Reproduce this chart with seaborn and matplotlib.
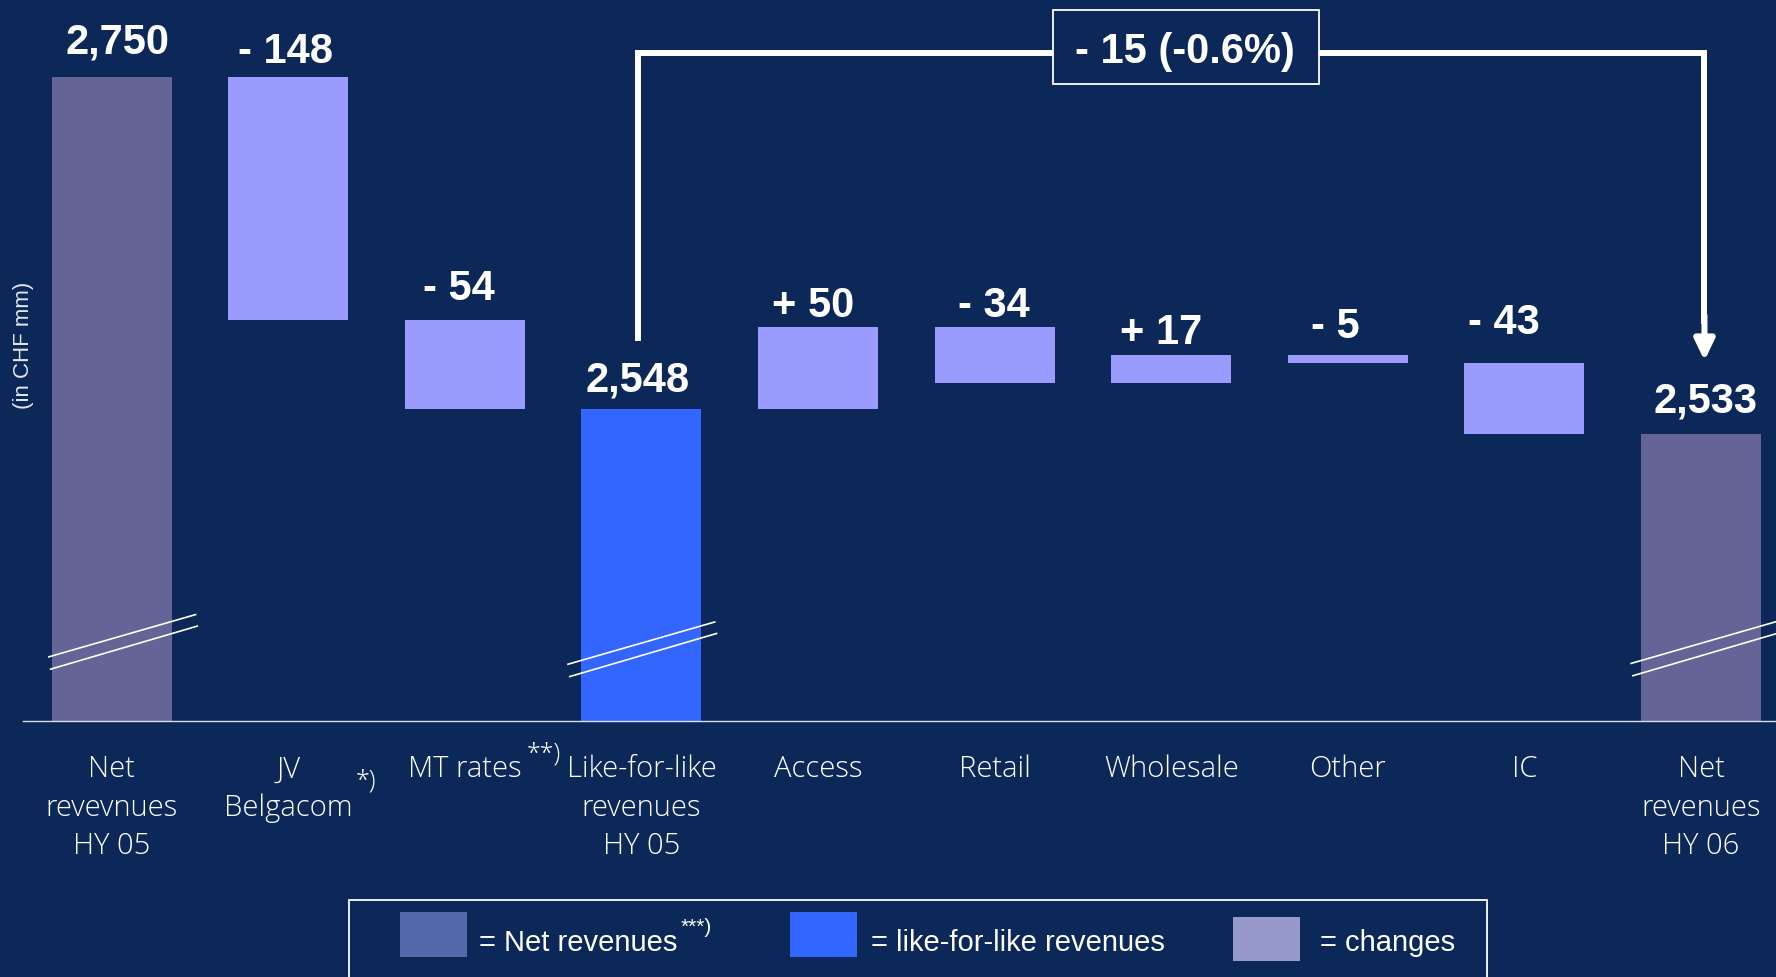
import matplotlib
matplotlib.use("Agg")
import matplotlib.pyplot as plt
from matplotlib.patches import Rectangle
import pandas as pd
import seaborn as sns

# ---- data -------------------------------------------------------------
categories = ["Net\nrevevnues\nHY 05", "JV\nBelgacom", "MT rates",
              "Like-for-like\nrevenues\nHY 05", "Access", "Retail",
              "Wholesale", "Other", "IC", "Net\nrevenues\nHY 06"]
values = [2750, -148, -54, 2548, 50, -34, 17, -5, -43, 2533]
kinds = ["total", "change", "change", "lfl", "change", "change",
         "change", "change", "change", "total"]
value_labels = ["2,750", "- 148", "- 54", "2,548", "+ 50", "- 34",
                "+ 17", "- 5", "- 43", "2,533"]
category_notes = ["", "*)", "**)", "", "", "", "", "", "", ""]
net_change_label = "- 15 (-0.6%)"
legend_labels = ["= Net revenues", "= like-for-like revenues", "= changes"]
legend_note = "***)"
axis_label = "(in CHF mm)"

# ---- waterfall geometry ----------------------------------------------
bottoms, heights = [], []
level = 0
for v, k in zip(values, kinds):
    if k == "change":
        bottoms.append(level + min(v, 0))
        heights.append(abs(v))
        level += v
    else:
        bottoms.append(0)
        heights.append(v)
        level = v
tops = [b + h for b, h in zip(bottoms, heights)]

df = pd.DataFrame({"category": categories, "height": heights, "bottom": bottoms})

# ---- style -------------------------------------------------------------
BG = "#0C2859"
bar_colors = {"total": "#646596", "lfl": "#3366FF", "change": "#9B9BFE"}
swatch_colors = ["#5569AA", "#3366FF", "#9799CD"]
WHITE = "white"
LABEL_FONT = ["Open Sans", "DejaVu Sans"]

sns.set_theme(style="white")
plt.rcParams.update({
    "figure.facecolor": BG,
    "axes.facecolor": BG,
    "savefig.facecolor": BG,
})
plt.rcParams["font.family"] = ["Liberation Sans", "DejaVu Sans"]

W, H = 1776, 978
PX = 72 / 100  # points per pixel at dpi 100
fig = plt.figure(figsize=(W / 100, H / 100), dpi=100)

axis_left, axis_base = 23.3, 721.5
ax = fig.add_axes([axis_left / W, 1 - axis_base / H, (W - axis_left) / W, axis_base / H])

sns.barplot(data=df, x="category", y="height", bottom=df["bottom"].to_numpy(),
            width=0.68, saturation=1, errorbar=None, color=bar_colors["change"], ax=ax)
for patch, k in zip(ax.patches, kinds):
    patch.set_facecolor(bar_colors[k])
    patch.set_edgecolor("none")

y_low, y_high = 2358.4, 2797.5
ax.set_xlim(-0.5, 9.425)
ax.set_ylim(y_low, y_high)
ax.set_xlabel("")
ax.set_ylabel("")
ax.set_yticks([])
for side in ("left", "right", "top"):
    ax.spines[side].set_visible(False)
ax.spines["bottom"].set_color("#D8DCE8")
ax.spines["bottom"].set_linewidth(1.0)

# category labels
ax.set_xticks(range(len(categories)))
ax.set_xticklabels(categories, fontsize=21, color=WHITE, family=LABEL_FONT,
                   fontweight="light", linespacing=1.4)
ax.tick_params(axis="x", length=0, pad=24)

# value labels above each bar
label_gap_px = [25, 15, 21.7, 18, 11, 11, 12, 18, 30, 22]
label_dx_px = [6, -3, -5.5, -4, -5, -1, -10, -12, -20, 5]
for i, (txt, top) in enumerate(zip(value_labels, tops)):
    ax.annotate(txt, xy=(i, top), xytext=(label_dx_px[i] * PX, label_gap_px[i] * PX),
                textcoords="offset points", ha="center", va="baseline",
                fontsize=30, fontweight="bold", color=WHITE, annotation_clip=False)

# axis break marks on the full-height bars
break_shift = {0: (0.06, 4.5), 3: (0.0, 0.0), 9: (0.02, 0.5)}
for i, k in enumerate(kinds):
    if k == "change":
        continue
    dx, dy = break_shift[i]
    for (x0, y0), (x1, y1) in [((-0.42, 2392.5), (0.42, 2418.5)),
                               ((-0.41, 2385.0), (0.43, 2411.5))]:
        ax.plot([i + x0 + dx, i + x1 + dx], [y0 + dy, y1 + dy], color=WHITE,
                lw=1.2, solid_capstyle="butt", clip_on=False, zorder=5)

# bracket from like-for-like HY 05 to net revenues HY 06
bracket_y = 2764.9
box_x0, box_x1 = 5.33, 6.837
box_y0, box_y1 = 2745.9, 2790.9
left_x, right_x = 2.98, 9.02
ax.plot([left_x, left_x, box_x0], [2589.6, bracket_y, bracket_y], color=WHITE, lw=4.3,
        solid_joinstyle="miter", solid_capstyle="butt", clip_on=False, zorder=6)
ax.plot([box_x1, right_x, right_x], [bracket_y, bracket_y, 2600], color=WHITE, lw=4.3,
        solid_joinstyle="miter", solid_capstyle="butt", clip_on=False, zorder=6)
ax.annotate("", xy=(right_x, 2577.4), xytext=(right_x, 2605),
            arrowprops=dict(arrowstyle="-|>,head_length=1.25,head_width=0.6",
                            mutation_scale=10, lw=4.3, color=WHITE,
                            shrinkA=0, shrinkB=0),
            annotation_clip=False, zorder=6)
ax.add_patch(Rectangle((box_x0, box_y0), box_x1 - box_x0, box_y1 - box_y0,
                       facecolor=BG, edgecolor=WHITE, lw=1.3, clip_on=False, zorder=7))
ax.text((box_x0 + box_x1) / 2 - 0.003, 2759.2, net_change_label, ha="center", va="baseline",
        fontsize=30, fontweight="bold", color=WHITE, zorder=8)


def fx(px):
    return px / W


def fy(py):
    return 1 - py / H


# footnote marks on category labels
fig.text(fx(356), fy(769), category_notes[1], ha="left", va="top", fontsize=18,
         color=WHITE, family=LABEL_FONT, fontweight="light")
fig.text(fx(527), fy(742), category_notes[2], ha="left", va="top", fontsize=18,
         color=WHITE, family=LABEL_FONT, fontweight="light")

# unit label
fig.text(fx(23), fy(345), axis_label, rotation=90, ha="center", va="center",
         fontsize=16, color="#E4E6EE")

# legend box
fig.patches.append(Rectangle((fx(349), fy(995)), fx(1487 - 349), (995 - 900.5) / H,
                             transform=fig.transFigure, facecolor="none",
                             edgecolor=WHITE, lw=1.3))
swatches = [(400, 913, 467, 958), (790, 913, 857, 958), (1233, 918, 1300, 962)]
text_x = [479, 871, 1320]
for (x0, y0, x1, y1), c, tx, lab in zip(swatches, swatch_colors, text_x, legend_labels):
    fig.patches.append(Rectangle((fx(x0), fy(y1)), fx(x1 - x0), (y1 - y0) / H,
                                 transform=fig.transFigure, facecolor=c, edgecolor="none"))
    fig.text(fx(tx), fy(951), lab, ha="left", va="baseline", fontsize=21, color=WHITE)
fig.text(fx(681), fy(918), legend_note, ha="left", va="top", fontsize=15, color=WHITE)

fig.savefig("out.png", dpi=100, facecolor=BG)
